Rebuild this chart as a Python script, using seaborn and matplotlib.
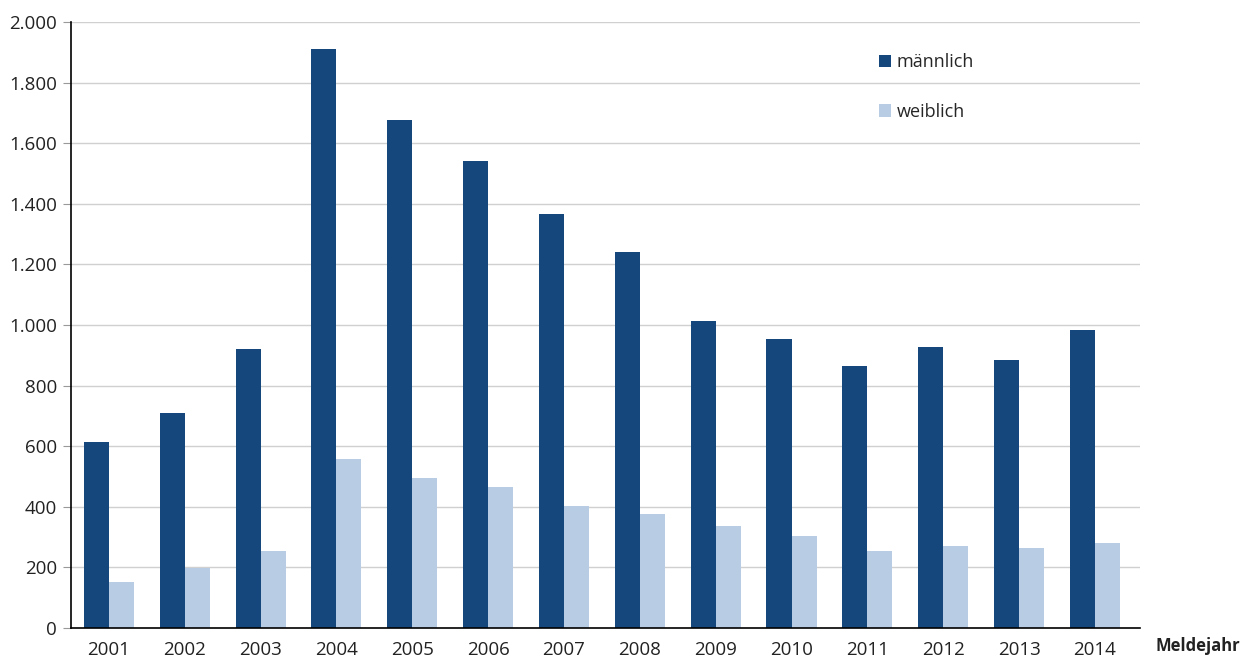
import pandas as pd
import seaborn as sns
import matplotlib.pyplot as plt
from matplotlib.ticker import FuncFormatter, MultipleLocator

# Meldejahre und Fallzahlen
jahre = ['2001', '2002', '2003', '2004', '2005', '2006', '2007',
         '2008', '2009', '2010', '2011', '2012', '2013', '2014']
maennlich = [614, 710, 921, 1911, 1677, 1541, 1366, 1241, 1013, 954, 865, 927, 884, 983]
weiblich = [152, 198, 254, 558, 495, 465, 403, 376, 337, 304, 254, 271, 264, 281]
gruppen = ['männlich', 'weiblich']
farben = ['#16477c', '#b8cce4']

df = pd.DataFrame({'Meldejahr': jahre * 2,
                   'Anzahl': maennlich + weiblich,
                   'Geschlecht': [gruppen[0]] * len(jahre) + [gruppen[1]] * len(jahre)})

sns.set_style('white')
plt.rcParams['font.family'] = ['Open Sans', 'DejaVu Sans']

fig = plt.figure(figsize=(12.45, 6.58), dpi=100)
ax = fig.add_axes([0.057, 0.0456, 0.859, 0.921])

sns.barplot(data=df, x='Meldejahr', y='Anzahl', hue='Geschlecht',
            palette=farben, width=0.66, saturation=1, linewidth=0, ax=ax)

ax.set_ylim(0, 2000)
ax.set_xlim(-0.5, 13.6)
ax.yaxis.set_major_locator(MultipleLocator(200))
ax.yaxis.set_major_formatter(FuncFormatter(lambda v, p: f'{int(v):,}'.replace(',', '.')))
ax.grid(axis='y', color='#d0d0d0', linewidth=1)
ax.set_axisbelow(True)

for s in ['top', 'right']:
    ax.spines[s].set_visible(False)
ax.spines['left'].set_color('black')
ax.spines['bottom'].set_color('black')
ax.spines['left'].set_linewidth(1.2)
ax.spines['bottom'].set_linewidth(1.2)

ax.tick_params(axis='y', left=True, length=6, color='#999999', labelsize=13.5, labelcolor='#222222', pad=4)
ax.tick_params(axis='x', bottom=False, labelsize=13.5, labelcolor='#222222', pad=6)
ax.set_xlabel('')
ax.set_ylabel('')

fig.text(0.928, 0.01, 'Meldejahr', fontsize=12, fontweight='bold', color='#222222')

ax.legend(loc='upper left', bbox_to_anchor=(0.74, 0.975), frameon=False,
          handlelength=0.7, handleheight=0.7, handletextpad=0.3,
          labelspacing=1.75, fontsize=13)

fig.savefig('out.png', dpi=100)
